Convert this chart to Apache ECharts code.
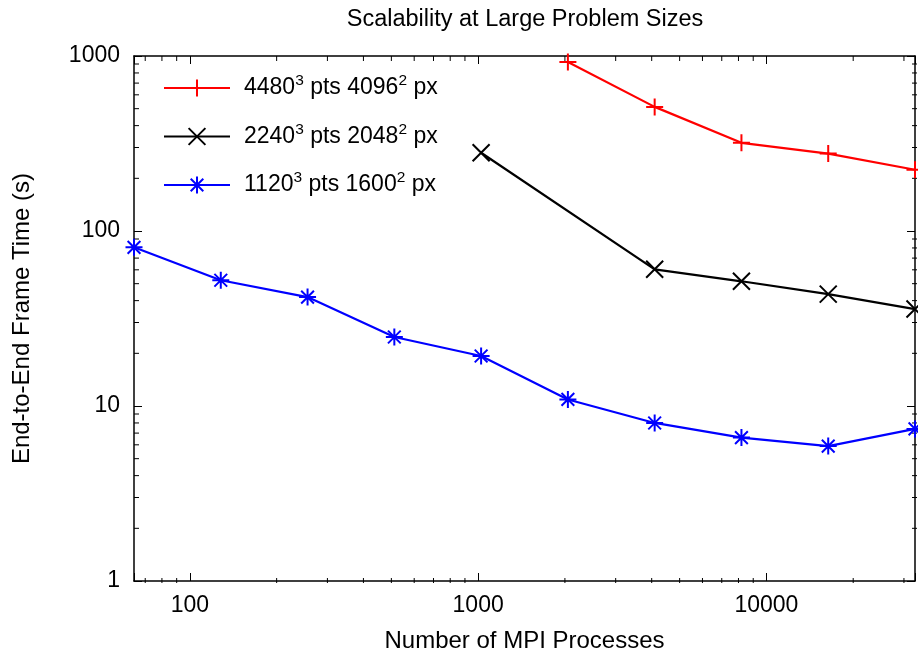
<!DOCTYPE html>
<html>
<head>
<meta charset="utf-8">
<script src="https://cdn.jsdelivr.net/npm/echarts@6/dist/echarts.min.js"></script>
<style>
html,body{margin:0;padding:0;background:#fff}
#main{width:918px;height:658px}
</style>
</head>
<body>
<div id="main"></div>
<script>
// MPI process counts and end-to-end frame time (s), null = not measured
var procs    = [64, 128, 256, 512, 1024, 2048, 4096, 8192, 16384, 32768];
var time4480 = [null, null, null, null, null, 923, 512, 319, 277, 224];
var time2240 = [null, null, null, null, 280, null, 60.4, 51.6, 43.6, 35.8];
var time1120 = [80.7, 52.3, 41.9, 24.8, 19.3, 10.9, 8.0, 6.6, 5.9, 7.4];

// legend text parts: grid points (cubed) and image size (squared)
var gridPts = ['4480', '2240', '1120'];
var imgPx   = ['4096', '2048', '1600'];
var colors  = ['#ff0000', '#000000', '#0000ff'];
var symbols = [
    'path://M0,8L16,8M8,0L8,16',                                   // +
    'path://M0,0L16,16M16,0L0,16',                                  // x
    'path://M0,8L16,8M8,0L8,16M2,2L14,14M14,2L2,14'                 // *
];

var FONT = "'Liberation Sans', Arial, Helvetica, sans-serif";

function pairs(ys){
    var out = [];
    for (var i = 0; i < procs.length; i++) {
        if (ys[i] != null) out.push([procs[i], ys[i]]);
    }
    return out;
}
function seriesName(i){
    return gridPts[i] + '³ pts ' + imgPx[i] + '² px';
}
function isDecade(v){
    var l = Math.log10(v);
    return Math.abs(l - Math.round(l)) < 1e-6;
}

var allTimes = [time4480, time2240, time1120];
var series = [];
for (var i = 0; i < 3; i++) {
    series.push({
        name: seriesName(i),
        type: 'line',
        data: pairs(allTimes[i]),
        symbol: symbols[i],
        symbolSize: 17,
        symbolKeepAspect: true,
        clip: false,
        lineStyle: {color: colors[i], width: 2.2},
        itemStyle: {color: colors[i], borderColor: colors[i], borderWidth: 2},
        emphasis: {disabled: true}
    });
}

var myChart = echarts.init(document.getElementById('main'));

var axisCommon = {
    type: 'log',
    logBase: 10,
    splitLine: {show: false},
    axisLine: {show: true, lineStyle: {color: '#000', width: 1.5}},
    axisTick: {show: true, inside: true, length: 8, lineStyle: {color: '#000', width: 1}}
};

var option = {
    animation: false,
    backgroundColor: '#fff',
    textStyle: {fontFamily: FONT},
    title: {
        text: 'Scalability at Large Problem Sizes',
        left: 525,
        top: 8,
        padding: 0,
        textAlign: 'center',
        textStyle: {fontFamily: FONT, fontSize: 23.5, fontWeight: 'normal', color: '#000'}
    },
    grid: {left: 134, right: 1, top: 56, bottom: 75},
    legend: {
        orient: 'vertical',
        left: 163,
        top: 73,
        padding: 0,
        itemWidth: 66,
        itemHeight: 21,
        itemGap: 22,
        selectedMode: false,
        data: series.map(function(s){ return s.name; }),
        formatter: function(name){
            for (var k = 0; k < 3; k++) {
                if (name === seriesName(k)) {
                    return '{first|' + gridPts[k] + '}{sup|3}{t| pts ' + imgPx[k] + '}{sup|2}{t| px}';
                }
            }
            return name;
        },
        textStyle: {
            fontFamily: FONT, fontSize: 23, color: '#000',
            rich: {
                first: {fontFamily: FONT, fontSize: 23, lineHeight: 30, padding: [0, 0, 0, 9], color: '#000'},
                t:     {fontFamily: FONT, fontSize: 23, lineHeight: 30, color: '#000'},
                sup:   {fontFamily: FONT, fontSize: 15.5, lineHeight: 15.5, verticalAlign: 'top', color: '#000'}
            }
        }
    },
    xAxis: [
        Object.assign({}, axisCommon, {
            position: 'bottom',
            min: 64, max: 32768,
            name: 'Number of MPI Processes',
            nameLocation: 'middle',
            nameGap: 48,
            nameTextStyle: {fontFamily: FONT, fontSize: 24, color: '#000'},
            axisLabel: {
                margin: 13, fontFamily: FONT, fontSize: 23, color: '#000',
                formatter: function(v){ return isDecade(v) ? String(v) : ''; }
            }
        }),
        Object.assign({}, axisCommon, {
            position: 'top',
            min: 64, max: 32768,
            axisLabel: {show: false}
        })
    ],
    yAxis: [
        Object.assign({}, axisCommon, {
            position: 'left',
            min: 1, max: 1000,
            name: 'End-to-End Frame Time (s)',
            nameLocation: 'middle',
            nameGap: 100,
            nameTextStyle: {fontFamily: FONT, fontSize: 24, color: '#000'},
            axisLabel: {
                margin: 14, fontFamily: FONT, fontSize: 23, color: '#000',
                formatter: function(v){ return isDecade(v) ? String(v) : ''; }
            }
        }),
        Object.assign({}, axisCommon, {
            position: 'right',
            min: 1, max: 1000,
            axisLabel: {show: false}
        })
    ],
    series: series
};

myChart.setOption(option);

// minor log ticks (2..9 per decade) on all four sides, placed through the axis scales
var gTop = 56, gBottom = 658 - 75, gLeft = 134, gRight = 918 - 1;
var minorLen = 5;
var marks = [];
function tick(x1, y1, x2, y2){
    marks.push({type: 'line', silent: true, shape: {x1: x1, y1: y1, x2: x2, y2: y2}, style: {stroke: '#000', lineWidth: 1}});
}
for (var e = 1; e <= 4; e++) {
    for (var m = 2; m <= 9; m++) {
        var v = m * Math.pow(10, e);
        if (v <= 64 || v >= 32768) continue;
        var px = myChart.convertToPixel({xAxisIndex: 0}, v);
        tick(px, gBottom, px, gBottom - minorLen);
        tick(px, gTop, px, gTop + minorLen);
    }
}
for (var e2 = 0; e2 <= 2; e2++) {
    for (var m2 = 2; m2 <= 9; m2++) {
        var py = myChart.convertToPixel({yAxisIndex: 0}, m2 * Math.pow(10, e2));
        tick(gLeft, py, gLeft + minorLen, py);
        tick(gRight, py, gRight - minorLen, py);
    }
}
myChart.setOption({graphic: marks});
</script>
</body>
</html>
